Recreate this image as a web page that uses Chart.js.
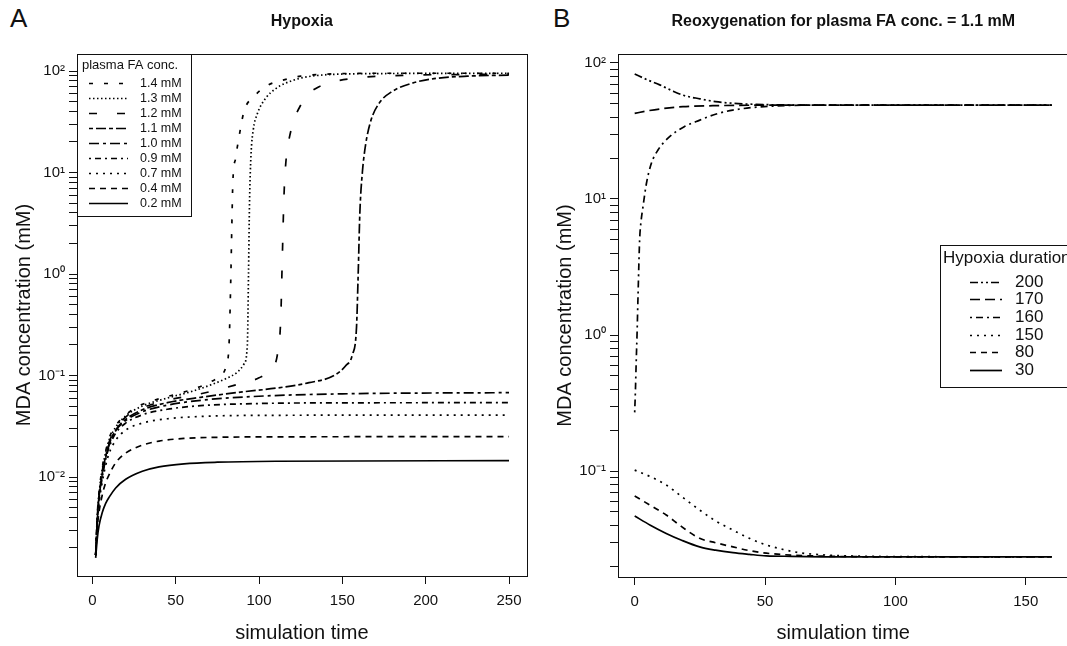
<!DOCTYPE html>
<html>
<head>
<meta charset="utf-8">
<script src="https://cdn.jsdelivr.net/npm/chart.js@4.4.1/dist/chart.umd.min.js"></script>
<style>
  html, body { margin: 0; padding: 0; background: #fff; overflow: hidden; width: 1067px; height: 646px; }
  canvas { position: absolute; top: 0; }
  #chartA { left: 0; }
  #chartB { left: 540px; }
  .tag { position: absolute; top: 3px; font: 26px 'Liberation Sans', Arial, sans-serif; color: #111; }
</style>
</head>
<body>
<div class="tag" style="left:10px">A</div>
<div class="tag" style="left:553px">B</div>
<canvas id="chartA" width="540" height="646"></canvas>
<canvas id="chartB" width="540" height="646"></canvas>
<script>
// axis ticks
const hypoxiaTimeTicks = [0, 50, 100, 150, 200, 250];
const reoxTimeTicks = [0, 50, 100, 150];
const mantissas = [1, 2, 3, 4, 5, 6, 7, 8, 9];
const hypoxiaDecades = [-3, -2, -1, 0, 1, 2];
const reoxDecades = [-2, -1, 0, 1, 2];

// legend labels
const faLabels = ['1.4 mM', '1.3 mM', '1.2 mM', '1.1 mM', '1.0 mM', '0.9 mM', '0.7 mM', '0.4 mM', '0.2 mM'];
const durationLabels = ['200', '170', '160', '150', '80', '30'];

// panel A: [time, MDA mM] per plasma FA conc.
const fa14 = [[2,0.0017],[3,0.0043],[4,0.007],[6,0.0125],[8,0.018],[10,0.024],[14,0.032],[20,0.041],[30,0.052],[45,0.062],[60,0.073],[70,0.085],[76,0.098],[80,0.12],[82,0.2],[83,0.8],[83.7,3],[84.3,8],[86,14],[87.5,20],[91,40],[97,56],[105,72],[114,81],[125,89],[140,93],[170,95],[250,95]];
const fa13 = [[2,0.0017],[3,0.0042],[4,0.0068],[6,0.012],[8,0.0175],[10,0.023],[14,0.031],[20,0.040],[30,0.050],[45,0.060],[60,0.070],[72,0.082],[80,0.093],[87,0.108],[91,0.13],[93,0.2],[93.7,1],[94.3,5],[95.2,15],[96.5,26],[99,38],[104,54],[110,67],[116,76],[125,85],[134,90],[160,94],[250,95]];
const fa12 = [[2,0.0017],[3,0.0041],[4,0.0066],[6,0.0115],[8,0.017],[10,0.022],[14,0.030],[20,0.039],[30,0.048],[45,0.057],[65,0.066],[85,0.080],[100,0.095],[107,0.115],[111,0.16],[113,0.35],[114,1.5],[115,6],[116,12],[117.5,19],[121,33],[125,46],[129,58],[136,70],[144,78],[160,86],[180,90],[250,93]];
const fa11 = [[2,0.0017],[3,0.004],[4,0.0064],[6,0.011],[8,0.016],[10,0.021],[14,0.029],[20,0.037],[30,0.046],[45,0.054],[65,0.061],[90,0.069],[110,0.075],[130,0.085],[145,0.100],[152,0.125],[156,0.16],[158.5,0.3],[159.5,1],[160.5,4],[162,10],[164,19],[167,32],[172,48],[180,63],[192,76],[205,84],[225,89],[250,91]];
const fa10 = [[2,0.0017],[3,0.0039],[4,0.0062],[6,0.0105],[8,0.0155],[10,0.0205],[14,0.0285],[20,0.036],[30,0.044],[45,0.051],[65,0.057],[100,0.0625],[150,0.066],[250,0.0678]];
const fa09 = [[2,0.0017],[3,0.0038],[4,0.006],[6,0.010],[8,0.015],[10,0.0195],[14,0.027],[20,0.034],[30,0.041],[45,0.0465],[65,0.0505],[100,0.053],[150,0.0538],[250,0.054]];
const fa07 = [[2,0.0017],[3,0.0036],[4,0.0055],[6,0.009],[8,0.013],[10,0.017],[14,0.023],[20,0.029],[30,0.034],[45,0.0375],[65,0.0395],[100,0.0405],[250,0.0408]];
const fa04 = [[2,0.0017],[3,0.0032],[4,0.0045],[6,0.0067],[8,0.0088],[10,0.0105],[14,0.0138],[20,0.0172],[30,0.0206],[40,0.0226],[55,0.024],[80,0.0247],[120,0.0249],[250,0.025]];
const fa02 = [[2,0.0016],[3,0.0025],[4,0.0033],[6,0.0045],[8,0.0055],[10,0.0063],[14,0.0078],[20,0.0095],[30,0.0114],[40,0.0126],[55,0.0135],[75,0.014],[110,0.0143],[250,0.0145]];

// panel B: [time, MDA mM] per hypoxia duration
const dur200 = [[0,83],[5,75],[9.6,69],[14,63],[18.5,58],[25,54.5],[31,52],[38,50.5],[44,49.8],[55,49.2],[70,49],[160,49]];
const dur170 = [[0,42.6],[5,44.5],[10,46],[18.5,47.7],[30,48.5],[45,48.9],[60,49],[160,49]];
const dur160 = [[0,0.27],[0.3,0.4],[0.6,0.65],[0.9,1.0],[1.3,2.0],[1.9,5.0],[2.5,7],[3.2,8.8],[4.5,13],[6.4,18.3],[9,23],[13.4,28.7],[19,34],[25,38],[31,42],[37.6,45],[45,47],[53,48.2],[65,48.9],[80,49],[160,49]];
const dur150 = [[0,0.1016],[6,0.091],[12.1,0.0789],[18,0.065],[24.9,0.0517],[31,0.043],[37.7,0.0368],[44,0.032],[50.5,0.0286],[57,0.0265],[63.2,0.0251],[72,0.0242],[85,0.0237],[100,0.0235],[160,0.0234]];
const dur80 = [[0,0.0655],[6,0.056],[12.1,0.0475],[18,0.039],[24.9,0.032],[31,0.0297],[37.7,0.0277],[44,0.026],[50.5,0.0249],[60,0.0241],[75,0.0236],[100,0.0234],[160,0.0234]];
const dur30 = [[0,0.0467],[6,0.040],[12.1,0.0348],[18,0.031],[24.9,0.0277],[31,0.0262],[37.7,0.0251],[44,0.0244],[50.5,0.0238],[60,0.0236],[80,0.0234],[160,0.0234]];

const FONT = "'Liberation Sans', Arial, sans-serif";
const INK = '#111';
const SUP = { '-': '\u207B', '0': '\u2070', '1': '\u00B9', '2': '\u00B2', '3': '\u00B3' };

function logTicks(min, max, decades) {
    const out = [];
    decades.forEach(e => mantissas.forEach(m => {
        const v = m * Math.pow(10, e);
        if (v >= min && v <= max) out.push({ value: v });
    }));
    return out;
}

function powLabel(v) {
    const e = Math.log10(v);
    if (Math.abs(e - Math.round(e)) > 1e-6) return '';
    return '10' + String(Math.round(e)).split('').map(c => SUP[c]).join('');
}

// frame round the plot region
const boxPlugin = {
    id: 'box',
    afterDatasetsDraw(chart) {
        const { ctx, chartArea: a } = chart;
        ctx.save();
        ctx.strokeStyle = INK;
        ctx.lineWidth = 1;
        ctx.strokeRect(Math.round(a.left) + 0.5, Math.round(a.top) + 0.5,
            Math.round(a.right - a.left), Math.round(a.bottom - a.top));
        ctx.restore();
    }
};

// R-style legend box inside the plot
const legendPlugin = {
    id: 'boxLegend',
    afterDraw(chart, args, o) {
        const ctx = chart.ctx;
        ctx.save();
        ctx.fillStyle = '#fff';
        ctx.fillRect(o.x, o.y, o.w, o.h);
        ctx.strokeStyle = INK;
        ctx.lineWidth = 1;
        ctx.strokeRect(o.x + 0.5, o.y + 0.5, o.w, o.h);
        ctx.fillStyle = INK;
        ctx.textBaseline = 'middle';
        ctx.textAlign = 'left';
        ctx.font = o.titleFont;
        ctx.fillText(o.title, o.titleX, o.titleY);
        ctx.font = o.font;
        chart.data.datasets.forEach((ds, i) => {
            const y = Math.round(o.rowY + i * o.rowGap) + 0.5;
            ctx.strokeStyle = '#000';
            ctx.lineWidth = ds.borderWidth;
            ctx.setLineDash(ds.borderDash);
            ctx.beginPath();
            ctx.moveTo(o.lineX1, y);
            ctx.lineTo(o.lineX2, y);
            ctx.stroke();
            ctx.setLineDash([]);
            ctx.fillText(ds.label, o.textX, y);
        });
        ctx.restore();
    }
};

function panel(id, p) {
    return new Chart(document.getElementById(id), {
        type: 'line',
        data: {
            datasets: p.series.map((pts, i) => ({
                label: p.labels[i],
                data: pts.map(([x, y]) => ({ x, y })),
                borderColor: '#000',
                borderWidth: 1.7,
                borderDash: p.dashes[i],
                pointRadius: 0,
                fill: false,
                cubicInterpolationMode: 'monotone'
            }))
        },
        options: {
            responsive: false,
            animation: false,
            events: [],
            layout: { padding: { left: 0, right: p.padRight, top: 0, bottom: 0 } },
            plugins: {
                legend: { display: false },
                tooltip: { enabled: false },
                title: {
                    display: true,
                    text: p.title,
                    fullSize: false,
                    color: INK,
                    font: { family: FONT, size: 16, weight: 'bold', lineHeight: 1.2 },
                    padding: { top: 12, bottom: 22.8 }
                },
                boxLegend: p.legend
            },
            scales: {
                x: {
                    type: 'linear',
                    min: p.xMin,
                    max: p.xMax,
                    afterBuildTicks: s => { s.ticks = p.xTicks.map(v => ({ value: v })); },
                    afterFit: s => { s.height = p.xHeight; },
                    ticks: { color: INK, font: { family: FONT, size: 15 }, padding: 8, maxRotation: 0, autoSkip: false },
                    grid: { drawOnChartArea: false, drawTicks: true, tickLength: 8, color: INK, tickColor: INK },
                    border: { display: true, color: INK },
                    title: {
                        display: true, text: 'simulation time', color: INK,
                        font: { family: FONT, size: 20, lineHeight: 1.2 },
                        padding: { top: 0, bottom: 1 }
                    }
                },
                y: {
                    type: 'logarithmic',
                    min: p.yMin,
                    max: p.yMax,
                    afterBuildTicks: s => { s.ticks = logTicks(p.yMin, p.yMax, p.decades); },
                    afterFit: s => { s.width = p.yWidth; },
                    ticks: { color: INK, font: { family: FONT, size: 15 }, padding: 4, autoSkip: false, callback: v => powLabel(v) },
                    grid: { drawOnChartArea: false, drawTicks: true, tickLength: 8, color: INK, tickColor: INK },
                    border: { display: true, color: INK },
                    title: {
                        display: true, text: 'MDA concentration (mM)', color: INK,
                        font: { family: FONT, size: 20, lineHeight: 1.2 },
                        padding: { top: p.yTitlePad, bottom: 0 }
                    }
                }
            }
        },
        plugins: [boxPlugin, legendPlugin]
    });
}

panel('chartA', {
    title: 'Hypoxia',
    series: [fa14, fa13, fa12, fa11, fa10, fa09, fa07, fa04, fa02],
    labels: faLabels,
    dashes: [[4, 11], [1.5, 2.5], [8, 20], [4, 3, 10, 3], [10, 4, 3, 4], [2, 4, 6, 4], [2, 5], [6, 5], []],
    xTicks: hypoxiaTimeTicks,
    xMin: -9.2, xMax: 260.6,
    yMin: Math.pow(10, -2.975), yMax: Math.pow(10, 2.1675),
    decades: hypoxiaDecades,
    yWidth: 77, xHeight: 70, padRight: 13.3, yTitlePad: 12,
    legend: {
        x: 77, y: 54, w: 114, h: 162,
        title: 'plasma FA conc.', titleX: 82, titleY: 65,
        titleFont: "13px " + FONT, font: "12.5px " + FONT,
        rowY: 83, rowGap: 15, lineX1: 89, lineX2: 128, textX: 140
    }
});

panel('chartB', {
    title: 'Reoxygenation for plasma FA conc. = 1.1 mM',
    series: [dur200, dur170, dur160, dur150, dur80, dur30],
    labels: durationLabels,
    dashes: [[8, 3, 2, 3, 2, 3], [10, 5], [2, 4, 7, 4], [2, 5], [6, 5], []],
    xTicks: reoxTimeTicks,
    xMin: -6.4, xMax: 166.4,
    yMin: Math.pow(10, -1.779), yMax: Math.pow(10, 2.066),
    decades: reoxDecades,
    yWidth: 78, xHeight: 69, padRight: 11.5, yTitlePad: 13,
    legend: {
        x: 400, y: 245, w: 200, h: 142,
        title: 'Hypoxia duration', titleX: 403, titleY: 258,
        titleFont: "17px " + FONT, font: "17px " + FONT,
        rowY: 281.7, rowGap: 17.65, lineX1: 430, lineX2: 462, textX: 475
    }
});
</script>
</body>
</html>
